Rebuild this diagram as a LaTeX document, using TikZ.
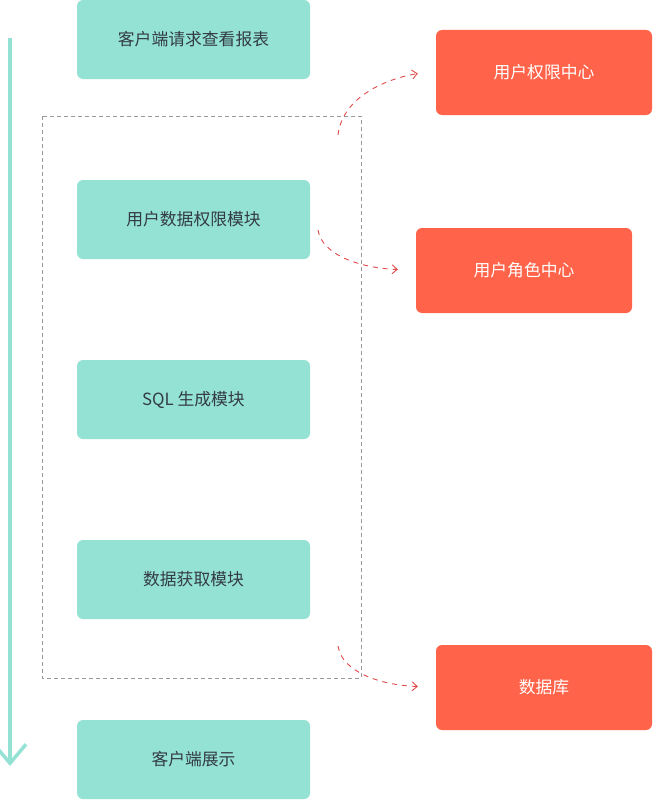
\documentclass[tikz,border=0pt]{standalone}
\usepackage{fontspec}
\setmainfont{Noto Sans CJK SC}
\usetikzlibrary{arrows.meta,calc}
\definecolor{tealbox}{HTML}{94E2D4}
\definecolor{redbox}{HTML}{FF634A}
\definecolor{darktext}{HTML}{333B44}
\definecolor{dashgray}{HTML}{999999}
\definecolor{dashred}{HTML}{E04A4A}

\begin{document}
\begin{tikzpicture}[x=1pt,y=-1pt,
	stage/.style={fill=tealbox, rounded corners=6pt, minimum width=233pt, minimum height=79pt, text=darktext, font=\fontsize{16.8}{20}\selectfont},
	service/.style={fill=redbox, rounded corners=6pt, minimum width=216pt, minimum height=85pt, text=white, font=\fontsize{16.8}{20}\selectfont},
	call/.style={dashred, dashed, dash pattern=on 5pt off 5pt, line width=0.9pt, -{Straight Barb[length=5pt,width=9pt]}}]
	\useasboundingbox (0,0) rectangle (653,800);
	% flow of the request
	\node[stage] (request) at (193.5,39.5) {客户端请求查看报表};
	\node[stage] (permission) at (193.5,219.5) {用户数据权限模块};
	\node[stage] (sqlgen) at (193.5,399.5) {SQL 生成模块};
	\node[stage] (fetch) at (193.5,579.5) {数据获取模块};
	\node[stage] (display) at (193.5,759.5) {客户端展示};
	% services
	\node[service] (authcenter) at (544,72.5) {用户权限中心};
	\node[service] (rolecenter) at (524,270.5) {用户角色中心};
	\node[service] (database) at (544,687.5) {数据库};
	% processing block
	\draw[dashgray, dashed, dash pattern=on 4pt off 3pt, line width=0.8pt] (42,116) rectangle (361,678);
	\coordinate (flowtop) at (10,38);
	\coordinate (flowend) at (10,766);
	\draw[tealbox, line width=3.5pt, -{Straight Barb[length=19pt,width=32pt,line width=3.5pt]}] (flowtop) -- (flowend);
	% calls to the services
	\draw[call] (338,135) .. controls (342,100) and (380,80) .. ($(authcenter.west)+(-18,1)$);
	\draw[call] (318,230) .. controls (322,255) and (360,268) .. ($(rolecenter.west)+(-18,-1)$);
	\draw[call] (338,646) .. controls (342,672) and (380,685) .. ($(database.west)+(-18,-1)$);
\end{tikzpicture}
\end{document}
